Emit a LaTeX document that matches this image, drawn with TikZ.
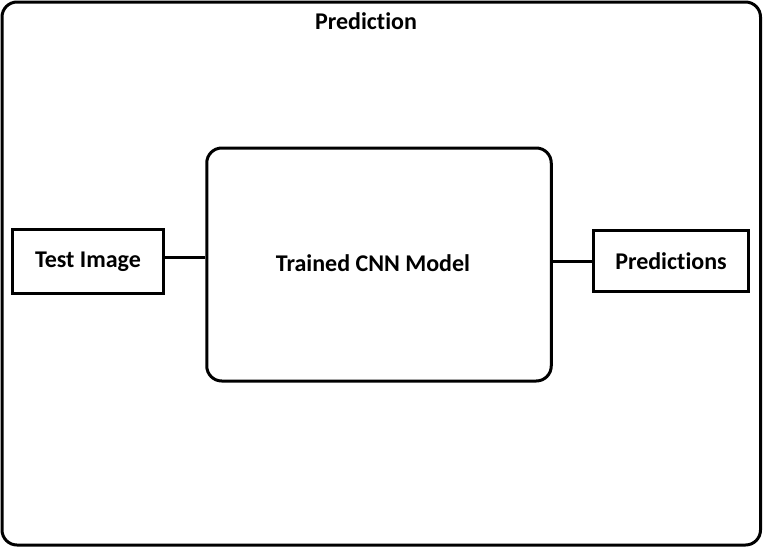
\documentclass[tikz,border=0pt]{standalone}
\usepackage{fontspec}
\setmainfont[Ligatures=NoCommon]{Carlito}

\begin{document}
\begin{tikzpicture}[x=1pt,y=-1pt,line width=3pt,every node/.style={inner sep=0pt,font=\fontsize{24}{28}\selectfont\bfseries}]
  \useasboundingbox (0,0) rectangle (766,552);

  \node[draw,rounded corners=15pt,minimum width=758.5pt,minimum height=543pt] at (381.25, 273.5) (frame) {};
  \node at (366, 21) (title) {Prediction};

  \node[draw,minimum width=151.5pt,minimum height=64pt] at (88, 261.5) (test) {Test Image};
  \node[draw,rounded corners=15pt,minimum width=344.5pt,minimum height=233pt] at (379, 264.5) (cnn) {};
  \node at (373, 263) (cnnlabel) {Trained CNN Model};
  \node[draw,minimum width=154.5pt,minimum height=61.5pt] at (671, 261) (pred) {Predictions};

  \draw ([yshift=4.5pt]test.east) -- ([yshift=4.5pt]test.east -| cnn.west);
  \draw (pred.west -| cnn.east) -- (pred.west);
\end{tikzpicture}
\end{document}
